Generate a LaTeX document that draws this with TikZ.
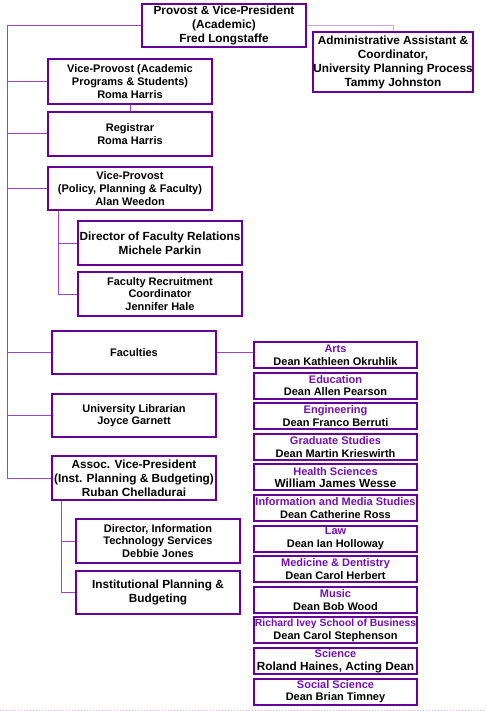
\documentclass[tikz,border=0pt]{standalone}
\usepackage{fontspec}
\setmainfont{Liberation Sans}
\usetikzlibrary{positioning}

\definecolor{boxpurple}{HTML}{660099}
\definecolor{linkpurple}{HTML}{9944CC}
\definecolor{lightpurple}{HTML}{CCA3EE}
\definecolor{facpurple}{HTML}{7311B0}
\newcommand{\smalltxt}{\fontsize{11}{12.6}\selectfont\bfseries}
\newcommand{\bigtxt}{\fontsize{11.8}{14}\selectfont\bfseries}
\newcommand{\tinytxt}{\fontsize{10.4}{12.6}\selectfont\bfseries}

\begin{document}
\begin{tikzpicture}[x=1pt, y=-1pt,
    box/.style={draw=boxpurple, line width=2pt, align=center, inner sep=0pt,
        minimum width=164pt, minimum height=44pt, font=\smalltxt},
    bigbox/.style={box, font=\bigtxt},
    facbox/.style={box, minimum width=163pt, minimum height=26pt},
    link/.style={draw=linkpurple, line width=1pt},
    adminlink/.style={draw=lightpurple, line width=1pt}]
    \useasboundingbox (0,0) rectangle (485,711);

    % Top level
    \node[bigbox, minimum height=43pt] (prov) at (224, 25.5)
        {Provost \& Vice-President\\(Academic)\\Fred Longstaffe};
    \node[bigbox, minimum width=158pt, minimum height=60pt] (adm) at (393, 62)
        {Administrative Assistant \&\\Coordinator,\\University Planning Process\\Tammy Johnston};

    % Left column
    \node[box, minimum height=45pt] (vpa) at (130, 81.5)
        {Vice-Provost (Academic\\Programs \& Students)\\Roma Harris};
    \node[box] (reg) [below=6pt of vpa] {Registrar\\Roma Harris};
    \node[box, minimum height=43pt] (vpp) [below=9pt of reg]
        {Vice-Provost\\(Policy, Planning \& Faculty)\\Alan Weedon};
    \node[bigbox] (dfr) at (160, 243) {Director of Faculty Relations\\Michele Parkin};
    \node[box] (frc) [below=5pt of dfr] {Faculty Recruitment\\Coordinator\\Jennifer Hale};
    \node[box, minimum height=43pt] (fac) at (134, 352.5) {Faculties};
    \node[box, minimum height=43pt] (lib) [below=18pt of fac] {University Librarian\\Joyce Garnett};
    \node[bigbox] (avp) [below=17pt of lib]
        {Assoc. Vice-President\\(Inst. Planning \& Budgeting)\\Ruban Chelladurai};
    \node[box] (dit) at (158, 541) {Director, Information\\Technology Services\\Debbie Jones};
    \node[bigbox, minimum height=43pt] (ipb) [below=6pt of dit] {Institutional Planning \&\\Budgeting};

    % Faculties
    \foreach \facname/\dean [count=\i from 0] in {
        Arts/{Dean Kathleen Okruhlik},
        Education/{Dean Allen Pearson},
        Engineering/{Dean Franco Berruti},
        Graduate Studies/{Dean Martin Krieswirth},
        Health Sciences/{\bigtxt William James Wesse},
        Information and Media Studies/{Dean Catherine Ross},
        Law/{Dean Ian Holloway},
        Medicine \& Dentistry/{Dean Carol Herbert},
        Music/{Dean Bob Wood},
        {\tinytxt Richard Ivey School of Business}/{Dean Carol Stephenson},
        Science/{\bigtxt Roland Haines, Acting Dean},
        Social Science/{Dean Brian Timney}}
        \node[facbox] (f\i) at (335.5, {355+30.6*\i})
            {\textcolor{facpurple}{\facname}\\\dean};

    % Connectors
    \coordinate (trunk) at (7,0);
    \coordinate (subp) at (58,0);
    \coordinate (suba) at (61,0);
    \draw[adminlink] (prov.east) -| (adm.north);
    \draw[link] (prov.west) -| (trunk |- avp.west) -- (avp.west);
    \foreach \n in {vpa, reg, vpp, fac, lib}
        \draw[link] (trunk |- \n.west) -- (\n.west);
    \draw[link] (vpa.south) -- (reg.north);
    \draw[link] (subp |- vpp.south) |- (frc.west);
    \draw[link] (subp |- dfr.west) -- (dfr.west);
    \draw[link] (suba |- avp.south) |- (ipb.west);
    \draw[link] (suba |- dit.west) -- (dit.west);
    \draw[link] (fac.east) -- (fac.east -| f0.west);

    % bottom rule
    \draw[lightpurple, dotted, line width=1pt] (0,710) -- (485,710);
\end{tikzpicture}
\end{document}
